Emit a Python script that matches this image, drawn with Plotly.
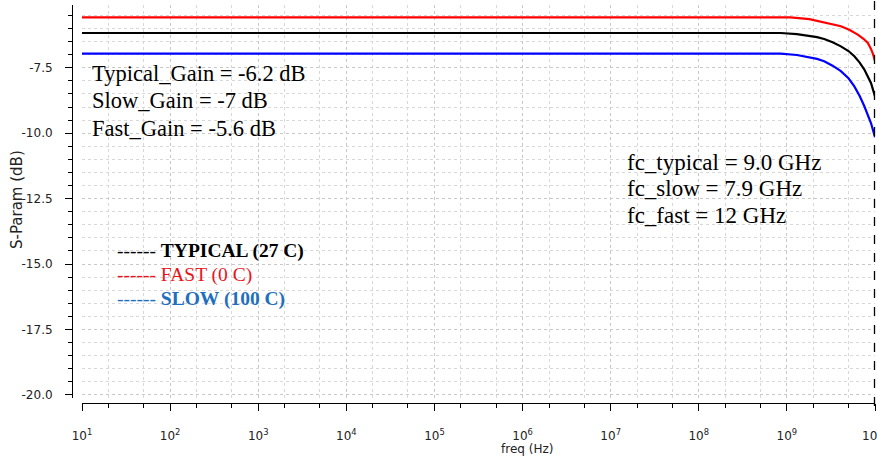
import plotly.graph_objects as go

W, H = 877, 456

# ---- data ----
freq_typ = [1e1, 8.5e8, 1.3e9, 1.72e9, 2.2e9, 2.65e9, 3.3e9, 4.1e9, 5.0e9, 5.83e9, 6.7e9, 7.57e9, 8.3e9, 9.0e9, 1e10]
gain_typ = [-6.17, -6.17, -6.21, -6.27, -6.33, -6.40, -6.52, -6.68, -6.86, -7.06, -7.30, -7.57, -7.82, -8.08, -8.59]

freq_fast = [1e1, 1.1e9, 1.8e9, 2.65e9, 3.3e9, 4.1e9, 5.1e9, 6.37e9, 7.4e9, 8.3e9, 9.0e9, 9.5e9, 1e10]
gain_fast = [-5.57, -5.57, -5.64, -5.76, -5.82, -5.91, -6.05, -6.23, -6.39, -6.55, -6.78, -6.98, -7.25]

freq_slow = [1e1, 8.5e8, 1.3e9, 1.72e9, 2.2e9, 2.65e9, 3.3e9, 4.1e9, 5.0e9, 5.83e9, 6.7e9, 7.57e9, 8.3e9, 9.0e9, 1e10]
gain_slow = [-6.96, -6.96, -7.01, -7.08, -7.16, -7.25, -7.42, -7.63, -7.90, -8.21, -8.58, -8.97, -9.30, -9.61, -10.15]

x_tick_exp = [1, 2, 3, 4, 5, 6, 7, 8, 9, 10]
y_tick_vals = [-20.0, -17.5, -15.0, -12.5, -10.0, -7.5]

gain_notes = ["Typical_Gain = -6.2 dB", "Slow_Gain = -7 dB", "Fast_Gain = -5.6 dB"]
fc_notes = ["fc_typical = 9.0 GHz", "fc_slow = 7.9 GHz", "fc_fast = 12 GHz"]
legend_items = [
    ("------ <b>TYPICAL (27 C)</b>", "#000000"),
    ("------ FAST (0 C)", "#e8141c"),
    ("------ <b>SLOW (100 C)</b>", "#1f6fbf"),
]

# ---- helpers for pixel placement (screen pixels -> paper fraction) ----
def px(x):
    return x / W

def py(y):
    return 1 - y / H

fig = go.Figure()
fig.add_trace(go.Scatter(x=freq_fast, y=gain_fast, mode="lines",
                         line=dict(color="#ff0000", width=2.2),
                         showlegend=False))
fig.add_trace(go.Scatter(x=freq_typ, y=gain_typ, mode="lines",
                         line=dict(color="#000000", width=2.2),
                         showlegend=False))
fig.add_trace(go.Scatter(x=freq_slow, y=gain_slow, mode="lines",
                         line=dict(color="#0000ff", width=2.2),
                         showlegend=False))

sans = "DejaVu Sans"
tickfont = dict(family=sans, size=12, color="#222222")

fig.update_layout(
    width=W, height=H,
    margin=dict(l=0, r=0, t=0, b=0, autoexpand=False),
    paper_bgcolor="white", plot_bgcolor="white",
    xaxis=dict(
        type="log", range=[1, 10],
        domain=[px(82), px(875)],
        anchor="free", position=py(403),
        automargin=False,
        showline=True, linecolor="black", linewidth=1,
        ticks="outside", ticklen=7, tickcolor="black",
        tickvals=[10 ** e for e in x_tick_exp],
        ticktext=["10<sup>%d</sup>" % e for e in x_tick_exp],
        tickfont=dict(family=sans, size=12, color="#222222"),
        ticklabeloverflow="allow",
        showgrid=True, gridcolor="#c8c8c8", griddash="dot", gridwidth=1,
        minor=dict(ticks="outside", ticklen=4, tickcolor="black",
                   showgrid=True, gridcolor="#d8d8d8", griddash="dot", gridwidth=1),
        zeroline=False,
        ticklabelstandoff=15,
    ),
    yaxis=dict(
        range=[-20.12, -5.1],
        domain=[py(398), py(5)],
        anchor="free", position=px(72),
        automargin=False,
        showline=True, linecolor="black", linewidth=1,
        ticks="outside", ticklen=7, tickcolor="black",
        tickvals=y_tick_vals, ticktext=["%.1f" % v for v in y_tick_vals],
        tickfont=tickfont,
        showgrid=True, gridcolor="#c8c8c8", griddash="dot", gridwidth=1,
        minor=dict(ticks="outside", ticklen=4, tickcolor="black", dtick=0.5,
                   showgrid=True, gridcolor="#d8d8d8", griddash="dot", gridwidth=1),
        zeroline=False,
        ticklabelstandoff=10,
    ),
)

# white panels behind the notes
fig.add_shape(type="rect", xref="paper", yref="paper",
              x0=px(82), x1=px(415), y0=py(134), y1=py(58),
              fillcolor="white", line=dict(width=0), layer="between")
fig.add_shape(type="rect", xref="paper", yref="paper",
              x0=px(610), x1=px(867), y0=py(232), y1=py(135),
              fillcolor="white", line=dict(width=0), layer="between")
fig.add_shape(type="rect", xref="paper", yref="paper",
              x0=px(107), x1=px(333), y0=py(337), y1=py(228),
              fillcolor="white", line=dict(width=0), layer="between")

# dashed vertical marker at the right edge (10 GHz)
fig.add_shape(type="line", xref="paper", yref="paper",
              x0=px(874.5), x1=px(874.5), y0=py(406), y1=1,
              line=dict(color="black", width=1.3, dash="dash"), layer="above")

serif = "Liberation Serif"
for i, t in enumerate(gain_notes):
    fig.add_annotation(xref="paper", yref="paper", x=px(90), y=py(74 + 27 * i),
                       text=t, showarrow=False, xanchor="left", yanchor="middle",
                       font=dict(family=serif, size=22.5, color="black"))
for i, t in enumerate(fc_notes):
    fig.add_annotation(xref="paper", yref="paper", x=px(625), y=py(162 + 26.5 * i),
                       text=t, showarrow=False, xanchor="left", yanchor="middle",
                       font=dict(family=serif, size=23, color="black"))
for i, (t, c) in enumerate(legend_items):
    fig.add_annotation(xref="paper", yref="paper", x=px(115), y=py(251 + 24 * i),
                       text=t, showarrow=False, xanchor="left", yanchor="middle",
                       font=dict(family=serif, size=19.5, color=c))

# axis titles
fig.add_annotation(xref="paper", yref="paper", x=px(17), y=py(200),
                   text="S-Param (dB)", showarrow=False, textangle=-90,
                   xanchor="center", yanchor="middle",
                   font=dict(family=sans, size=15, color="#222222"))
fig.add_annotation(xref="paper", yref="paper", x=px(527), y=py(440),
                   text="freq (Hz)", showarrow=False,
                   xanchor="center", yanchor="top",
                   font=dict(family=sans, size=12, color="#222222"))

fig.write_html(
    "out.html",
    config={"displayModeBar": False},
    post_script="document.body.style.margin='0';document.body.style.overflow='hidden';",
)
